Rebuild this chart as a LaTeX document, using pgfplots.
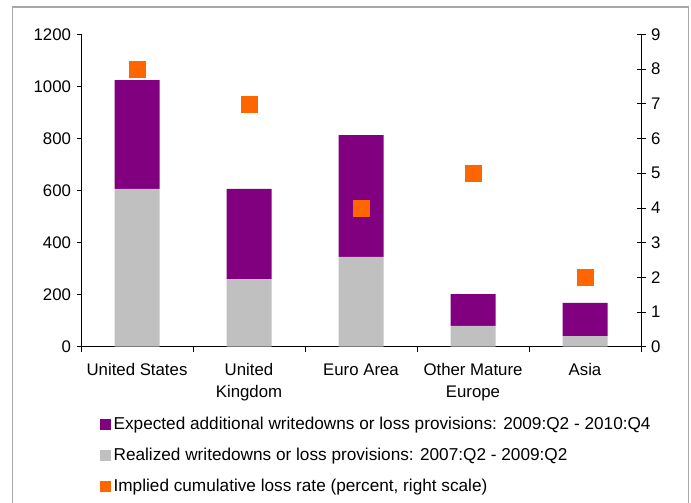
\documentclass[border=0pt]{standalone}
\usepackage{pgfplots}
\pgfplotsset{compat=1.18}
\usepackage{fontspec}
\setmainfont{Liberation Sans}

\definecolor{lossPurple}{HTML}{800080}
\definecolor{lossGrey}{HTML}{C0C0C0}
\definecolor{lossOrange}{HTML}{FF6600}
\definecolor{frameGrey}{HTML}{A8A8A8}

\pgfplotsset{
  common/.style={
    at={(81bp,-346.7bp)}, anchor=south west,
    scale only axis, width=560bp, height=312.3bp,
    xmin=-0.5, xmax=4.5,
    axis line style={-, black, line width=0.8bp},
    tick style={black, line width=0.8bp},
    /pgf/number format/assume math mode=true,
    /pgf/number format/1000 sep={},
    tick label style={font=\fontsize{16.8bp}{22bp}\selectfont},
  },
  sq/.style={legend image code/.code={\fill[#1] (0bp,-5bp) rectangle (10bp,5bp);}},
}

\begin{document}
\begin{tikzpicture}
\useasboundingbox (0,0) rectangle (691bp,-503bp);
\draw[frameGrey, line width=1.3bp] (12.7bp,-7bp) rectangle (688.7bp,-530bp);

% left scale: writedowns, stacked bars
\begin{axis}[common,
  ymin=0, ymax=1200, ytick={0,200,...,1200},
  axis x line*=bottom, axis y line*=left,
  tick align=outside, major tick length=4.5bp,
  xtick={0,...,4}, major x tick style={draw=none},
  minor xtick={-0.5,0.5,...,4.5}, minor tick length=5bp,
  xticklabels={United States, United\\Kingdom, Euro Area, Other Mature\\Europe, Asia},
  xticklabel style={align=center, yshift=-9bp},
  yticklabel style={xshift=-2bp},
  ybar stacked, bar width=45bp,
]
\addplot[fill=lossGrey, draw=none] coordinates {(0,606) (1,260) (2,345) (3,80) (4,41)};
\addplot[fill=lossPurple, draw=none] coordinates {(0,418) (1,346) (2,468) (3,122) (4,127)};
\end{axis}

% right scale: implied loss rate
\begin{axis}[common,
  ymin=0, ymax=9, ytick={0,...,9},
  axis x line=none, axis y line*=right,
  tick align=center, major tick length=9bp,
  yticklabel style={xshift=2bp},
  legend style={draw=none, fill=none, at={(axis description cs:0.034,-0.222)}, anchor=north west,
    font=\fontsize{17.2bp}{20bp}\selectfont, row sep=14.8bp, inner sep=0pt,
    nodes={inner xsep=3bp, inner ysep=1bp}},
  legend cell align=left,
]
\addplot[only marks, mark=square*, mark size=8bp, color=lossOrange, forget plot]
  coordinates {(0,8) (1,7) (2,4) (3,5) (4,2)};
\addlegendimage{sq=lossPurple}
\addlegendentry{Expected additional writedowns or loss provisions: 2009:Q2 - 2010:Q4}
\addlegendimage{sq=lossGrey}
\addlegendentry{Realized writedowns or loss provisions: 2007:Q2 - 2009:Q2}
\addlegendimage{sq=lossOrange}
\addlegendentry{Implied cumulative loss rate (percent, right scale)}
\end{axis}
\end{tikzpicture}
\end{document}
